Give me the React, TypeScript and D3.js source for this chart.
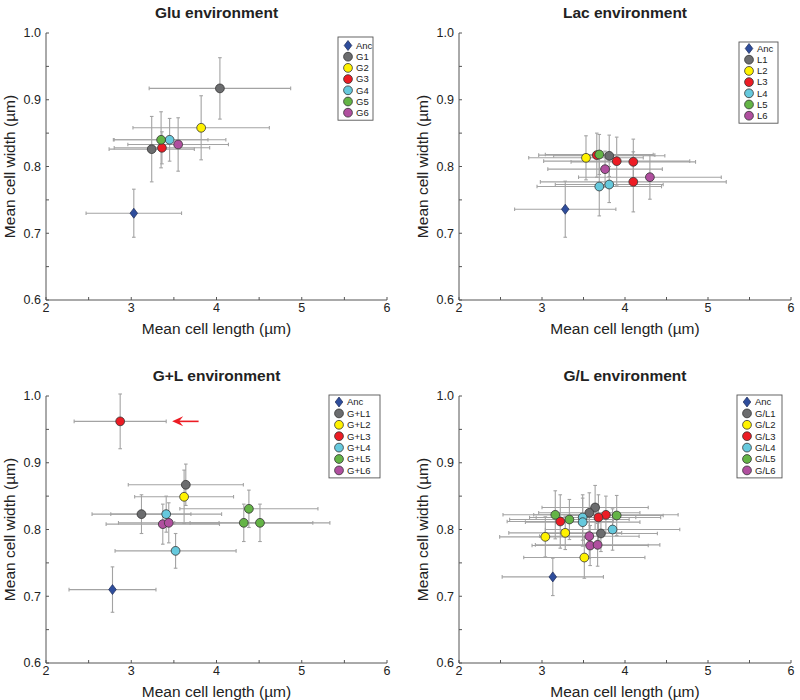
import * as d3 from "d3";
import React from "react";

// series colours, index 0 is the ancestor (diamond)
const seriesColors = ["#2e4d9c", "#6b6c6e", "#fff200", "#ec1c24", "#66c9dd", "#64b446", "#b04f9f"];

const gluSeries = ["Anc", "G1", "G2", "G3", "G4", "G5", "G6"];
const lacSeries = ["Anc", "L1", "L2", "L3", "L4", "L5", "L6"];
const gplSeries = ["Anc", "G+L1", "G+L2", "G+L3", "G+L4", "G+L5", "G+L6"];
const glSeries = ["Anc", "G/L1", "G/L2", "G/L3", "G/L4", "G/L5", "G/L6"];

// s = series index, x = mean length, y = mean width, ex / ey = error half widths
const gluPoints = [
  { s: 0, x: 3.03, y: 0.730, ex: 0.56, ey: 0.036 },
  { s: 1, x: 4.04, y: 0.917, ex: 0.83, ey: 0.046 },
  { s: 1, x: 3.24, y: 0.826, ex: 0.50, ey: 0.049 },
  { s: 2, x: 3.82, y: 0.858, ex: 0.80, ey: 0.048 },
  { s: 3, x: 3.36, y: 0.828, ex: 0.56, ey: 0.024 },
  { s: 4, x: 3.45, y: 0.840, ex: 0.66, ey: 0.032 },
  { s: 5, x: 3.35, y: 0.840, ex: 0.55, ey: 0.042 },
  { s: 6, x: 3.55, y: 0.833, ex: 0.59, ey: 0.040 },
];

const lacPoints = [
  { s: 0, x: 3.28, y: 0.736, ex: 0.61, ey: 0.042 },
  { s: 1, x: 3.81, y: 0.816, ex: 0.67, ey: 0.031 },
  { s: 2, x: 3.53, y: 0.813, ex: 0.69, ey: 0.033 },
  { s: 3, x: 3.66, y: 0.817, ex: 0.70, ey: 0.033 },
  { s: 3, x: 3.90, y: 0.808, ex: 0.88, ey: 0.036 },
  { s: 3, x: 4.10, y: 0.807, ex: 0.75, ey: 0.034 },
  { s: 3, x: 4.10, y: 0.777, ex: 1.12, ey: 0.045 },
  { s: 4, x: 3.69, y: 0.770, ex: 0.75, ey: 0.044 },
  { s: 4, x: 3.81, y: 0.773, ex: 0.65, ey: 0.027 },
  { s: 5, x: 3.69, y: 0.818, ex: 0.65, ey: 0.030 },
  { s: 6, x: 3.76, y: 0.796, ex: 0.69, ey: 0.027 },
  { s: 6, x: 4.30, y: 0.784, ex: 0.86, ey: 0.033 },
];

const gplPoints = [
  { s: 0, x: 2.78, y: 0.710, ex: 0.51, ey: 0.034 },
  { s: 1, x: 3.64, y: 0.867, ex: 0.675, ey: 0.031 },
  { s: 1, x: 3.12, y: 0.823, ex: 0.58, ey: 0.029 },
  { s: 2, x: 3.62, y: 0.849, ex: 0.58, ey: 0.040 },
  { s: 3, x: 2.87, y: 0.962, ex: 0.54, ey: 0.041 },
  { s: 4, x: 3.41, y: 0.823, ex: 0.65, ey: 0.027 },
  { s: 4, x: 3.52, y: 0.768, ex: 0.71, ey: 0.026 },
  { s: 5, x: 4.38, y: 0.831, ex: 0.81, ey: 0.028 },
  { s: 5, x: 4.32, y: 0.810, ex: 0.81, ey: 0.028 },
  { s: 5, x: 4.51, y: 0.810, ex: 0.82, ey: 0.028 },
  { s: 6, x: 3.37, y: 0.808, ex: 0.665, ey: 0.030 },
  { s: 6, x: 3.44, y: 0.810, ex: 0.59, ey: 0.030 },
];

const glPoints = [
  { s: 0, x: 3.13, y: 0.729, ex: 0.61, ey: 0.028 },
  { s: 1, x: 3.64, y: 0.833, ex: 0.64, ey: 0.033 },
  { s: 1, x: 3.57, y: 0.825, ex: 0.61, ey: 0.030 },
  { s: 1, x: 3.71, y: 0.794, ex: 0.68, ey: 0.027 },
  { s: 2, x: 3.04, y: 0.789, ex: 0.55, ey: 0.030 },
  { s: 2, x: 3.28, y: 0.795, ex: 0.68, ey: 0.025 },
  { s: 2, x: 3.51, y: 0.758, ex: 0.73, ey: 0.031 },
  { s: 3, x: 3.77, y: 0.822, ex: 0.87, ey: 0.028 },
  { s: 3, x: 3.68, y: 0.818, ex: 0.75, ey: 0.034 },
  { s: 3, x: 3.22, y: 0.812, ex: 0.64, ey: 0.040 },
  { s: 4, x: 3.49, y: 0.818, ex: 0.64, ey: 0.034 },
  { s: 4, x: 3.49, y: 0.811, ex: 0.69, ey: 0.036 },
  { s: 4, x: 3.85, y: 0.800, ex: 0.81, ey: 0.031 },
  { s: 5, x: 3.16, y: 0.822, ex: 0.63, ey: 0.036 },
  { s: 5, x: 3.33, y: 0.815, ex: 0.72, ey: 0.030 },
  { s: 5, x: 3.90, y: 0.821, ex: 0.56, ey: 0.030 },
  { s: 6, x: 3.57, y: 0.790, ex: 0.60, ey: 0.033 },
  { s: 6, x: 3.58, y: 0.776, ex: 0.70, ey: 0.030 },
  { s: 6, x: 3.67, y: 0.777, ex: 0.75, ey: 0.032 },
];

// red arrow in the G+L panel: [tip x, tail x, y]
const gplArrow = [3.48, 3.79, 0.962];

const xTicks = [2, 3, 4, 5, 6];
const yTicks = [0.6, 0.7, 0.8, 0.9, 1.0];
const xDomain = [2, 6];
const yDomain = [0.6, 1.0];

const FONT = "'Liberation Sans', Arial, Helvetica, sans-serif";

const panels = [
  { title: "Glu environment", series: gluSeries, points: gluPoints, x0: 46, x1: 387, top: 33, bottom: 300,
    legend: { x: 338, y: 37, w: 35, row0: 45.5, step: 11.2 } },
  { title: "Lac environment", series: lacSeries, points: lacPoints, x0: 459, x1: 791, top: 33, bottom: 300,
    legend: { x: 739, y: 42, w: 39, row0: 48.5, step: 11.2 } },
  { title: "G+L environment", series: gplSeries, points: gplPoints, x0: 46, x1: 387, top: 396, bottom: 663,
    legend: { x: 329, y: 395, w: 51, row0: 402, step: 11.4 }, arrow: gplArrow },
  { title: "G/L environment", series: glSeries, points: glPoints, x0: 459, x1: 791, top: 396, bottom: 663,
    legend: { x: 737, y: 395, w: 45, row0: 402, step: 11.4 } },
];

function Marker({ cx, cy, s }) {
  if (s === 0) {
    const p = `M${cx},${cy - 5} L${cx + 3.8},${cy} L${cx},${cy + 5} L${cx - 3.8},${cy} Z`;
    return <path d={p} fill={seriesColors[0]} stroke="#1c2a55" strokeWidth={0.7} />;
  }
  return <circle cx={cx} cy={cy} r={4.4} fill={seriesColors[s]} stroke="#333" strokeWidth={0.8} />;
}

function Panel({ p }) {
  const x = d3.scaleLinear().domain(xDomain).range([p.x0, p.x1]);
  const y = d3.scaleLinear().domain(yDomain).range([p.bottom, p.top]);
  const cap = 1.8;
  const barColor = "#a3a3a3";
  const axisColor = "#555";
  const L = p.legend;

  return (
    <g>
      <text x={(p.x0 + p.x1) / 2} y={p.top - 15} textAnchor="middle" fontFamily={FONT}
        fontWeight="bold" fontSize={15.5} fill="#222">{p.title}</text>

      {/* axes */}
      <line x1={p.x0} x2={p.x0} y1={p.top} y2={p.bottom} stroke={axisColor} strokeWidth={1} />
      <line x1={p.x0} x2={p.x1} y1={p.bottom} y2={p.bottom} stroke={axisColor} strokeWidth={1} />
      {d3.range(0.6, 1.0001, 0.05).map((v) => (
        <line key={"yt" + v} x1={p.x0} x2={p.x0 + 3} y1={y(v)} y2={y(v)} stroke={axisColor} />
      ))}
      {d3.range(2, 6.001, 0.5).map((v) => (
        <line key={"xt" + v} x1={x(v)} x2={x(v)} y1={p.bottom} y2={p.bottom - 3} stroke={axisColor} />
      ))}
      {yTicks.map((v) => (
        <text key={"yl" + v} x={p.x0 - 5} y={y(v)} dy="0.35em" textAnchor="end" fontFamily={FONT}
          fontSize={12.5} fill="#222">{v.toFixed(1)}</text>
      ))}
      {xTicks.map((v) => (
        <text key={"xl" + v} x={x(v)} y={p.bottom + 12} textAnchor="middle" fontFamily={FONT}
          fontSize={12.5} fill="#222">{v}</text>
      ))}
      <text x={(p.x0 + p.x1) / 2} y={p.bottom + 34} textAnchor="middle" fontFamily={FONT}
        fontSize={15.5} fill="#222">Mean cell length (µm)</text>
      <text transform={`translate(${p.x0 - 31},${(p.top + p.bottom) / 2}) rotate(-90)`} textAnchor="middle"
        fontFamily={FONT} fontSize={15.5} fill="#222">Mean cell width (µm)</text>

      {/* error bars */}
      {p.points.map((d, i) => {
        const cx = x(d.x), cy = y(d.y);
        const xl = x(d.x - d.ex), xr = x(d.x + d.ex);
        const yt = y(d.y + d.ey), yb = y(d.y - d.ey);
        return (
          <g key={"e" + i} stroke={barColor} strokeWidth={1.1}>
            <line x1={xl} x2={xr} y1={cy} y2={cy} />
            <line x1={xl} x2={xl} y1={cy - cap} y2={cy + cap} />
            <line x1={xr} x2={xr} y1={cy - cap} y2={cy + cap} />
            <line x1={cx} x2={cx} y1={yt} y2={yb} />
            <line x1={cx - cap} x2={cx + cap} y1={yt} y2={yt} />
            <line x1={cx - cap} x2={cx + cap} y1={yb} y2={yb} />
          </g>
        );
      })}

      {/* markers */}
      {p.points.map((d, i) => (
        <Marker key={"m" + i} cx={x(d.x)} cy={y(d.y)} s={d.s} />
      ))}

      {p.arrow && (() => {
        const tip = x(p.arrow[0]), tail = x(p.arrow[1]), ay = y(p.arrow[2]);
        return (
          <g>
            <line x1={tip + 6} x2={tail} y1={ay} y2={ay} stroke="#ec1c24" strokeWidth={1.6} />
            <path d={`M${tip},${ay} L${tip + 11},${ay - 5} L${tip + 7},${ay} L${tip + 11},${ay + 5} Z`}
              fill="#ec1c24" />
          </g>
        );
      })()}

      {/* legend */}
      <rect x={L.x} y={L.y} width={L.w} height={L.row0 - L.y + L.step * 6 + 7.5} fill="#fff"
        stroke="#555" strokeWidth={0.9} />
      {p.series.map((name, i) => (
        <g key={"lg" + i}>
          <Marker cx={L.x + 10} cy={L.row0 + i * L.step} s={i} />
          <text x={L.x + 18} y={L.row0 + i * L.step} dy="0.35em" fontFamily={FONT} fontSize={9.5}
            fill="#222">{name}</text>
        </g>
      ))}
    </g>
  );
}

export default function App() {
  return (
    <svg width={800} height={700} style={{ position: "absolute", left: 0, top: 0, background: "#fff" }}>
      <rect width={800} height={700} fill="#fff" />
      {panels.map((p) => (
        <Panel key={p.title} p={p} />
      ))}
    </svg>
  );
}
